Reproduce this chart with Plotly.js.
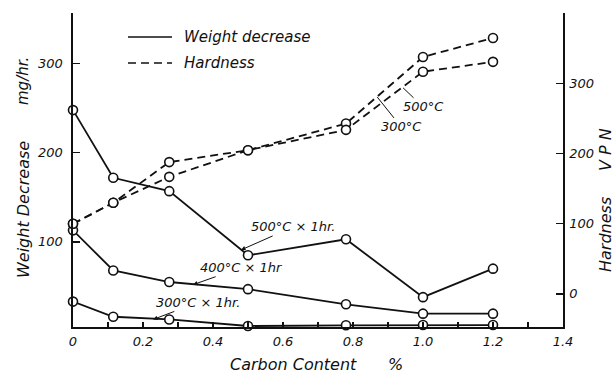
<!DOCTYPE html>
<html>
<head>
<meta charset="utf-8">
<script src="https://cdn.plot.ly/plotly-3.0.1.min.js"></script>
<style>
  html, body { margin: 0; padding: 0; background: #fff; }
  #chart { width: 614px; height: 376px; }
</style>
</head>
<body>
<div id="chart"></div>
<script>
// Carbon content (%) of the steels tested
const carbon = [0, 0.115, 0.275, 0.5, 0.78, 1.0, 1.2];

// Weight decrease (mg/hr.) after tempering for 1 hr. at each temperature
const wear500 = [248, 172, 157, 85, 103, 38, 70];
const wear400 = [113, 68, 55, 47, 30, 19.5, 19.5];
const wear300 = [33, 16, 13, 5.6, 6.4, 6.7, 6.7];

// Hardness (VPN) after tempering at 300 °C and 500 °C
const hard300 = [100, 130, 188, 205, 243, 338, 365];
const hard500 = [100, 130, 167, 205, 234, 317, 331];

// Axis ticks
const xTickVals = [0, 0.1, 0.2, 0.3, 0.4, 0.5, 0.6, 0.7, 0.8, 0.9, 1.0, 1.1, 1.2, 1.3, 1.4];
const xTickText = ['0', '', '0.2', '', '0.4', '', '0.6', '', '0.8', '', '1.0', '', '1.2', '', '1.4'];
const wearTicks = [100, 200, 300];
const hardTicks = [0, 100, 200, 300];

const INK = '#111';
const FONT = 'DejaVu Sans';
const W = 614, H = 376;
const M = { l: 73, r: 51, t: 13, b: 49 };

// pixel -> paper helpers for layout items
const px = x => (x - M.l) / (W - M.l - M.r);
const py = y => (H - M.b - y) / (H - M.t - M.b);

const markerStyle = { symbol: 'circle', size: 9, color: '#fff', line: { color: INK, width: 1.6 } };

function series(x, y, axis, dash) {
  return {
    type: 'scatter', mode: 'lines+markers', x: x, y: y, yaxis: axis,
    line: { color: INK, width: 1.8, dash: dash || 'solid' },
    marker: markerStyle, cliponaxis: false, hoverinfo: 'skip'
  };
}

const traces = [
  series(carbon, hard300, 'y2', '8px,5px'),
  series(carbon, hard500, 'y2', '8px,5px'),
  series(carbon, wear500, 'y'),
  series(carbon, wear400, 'y'),
  series(carbon, wear300, 'y')
];

const tickFont = { family: FONT, size: 13, color: INK, style: 'italic' };
const labelFont = { family: FONT, size: 13, color: INK, style: 'italic' };

function note(text, x, y, yref, ax, ay, head) {
  return {
    text: text, x: x, y: y, xref: 'x', yref: yref, ax: ax, ay: ay,
    showarrow: true, arrowhead: head, arrowsize: 0.9, arrowwidth: 1, arrowcolor: INK,
    font: labelFont, standoff: 0
  };
}

function label(text, x, y, opts) {
  return Object.assign({
    text: text, x: px(x), y: py(y), xref: 'paper', yref: 'paper',
    xanchor: 'center', yanchor: 'middle',
    showarrow: false, font: { family: FONT, size: 16, color: INK, style: 'italic' }
  }, opts || {});
}

const legendFont = { family: FONT, size: 15, color: INK, style: 'italic' };

const annotations = [
  note('500°C × 1hr.', 0.48, 91, 'y', 52, -23, 2),
  note('400°C × 1hr', 0.343, 52, 'y', 48, -17, 2),
  note('300°C × 1hr.', 0.229, 13, 'y', 45, -17, 2),
  note('500°C', 0.943, 294, 'y2', 20, 19, 0),
  note('300°C', 0.869, 281, 'y2', 24, 30, 0),
  // legend text
  label('Weight decrease', 182, 37, { xanchor: 'left', font: legendFont }),
  label('Hardness', 182, 63, { xanchor: 'left', font: legendFont }),
  // axis titles
  label('Weight Decrease', 23, 210, { textangle: -90 }),
  label('mg/hr.', 23, 81, { textangle: -90, font: legendFont }),
  label('Hardness', 605, 235, { textangle: -90 }),
  label('V P N', 605, 150, { textangle: -90 }),
  label('Carbon Content', 293, 364),
  label('%', 395, 364)
];

const shapes = [
  { type: 'line', xref: 'paper', yref: 'paper', x0: px(128), x1: px(172), y0: py(37), y1: py(37),
    line: { color: INK, width: 1.6 } },
  { type: 'line', xref: 'paper', yref: 'paper', x0: px(128), x1: px(172), y0: py(63), y1: py(63),
    line: { color: INK, width: 1.6, dash: '8px,5px' } }
];

const layout = {
  width: W, height: H, margin: M,
  paper_bgcolor: '#fff', plot_bgcolor: '#fff',
  showlegend: false,
  font: { family: FONT, color: INK },
  xaxis: {
    range: [0, 1.4], tickmode: 'array', tickvals: xTickVals, ticktext: xTickText,
    ticks: 'inside', ticklen: 5, tickwidth: 1.2, tickcolor: INK,
    showline: true, linecolor: INK, linewidth: 1.6, mirror: false,
    showgrid: false, zeroline: false, tickfont: tickFont, ticklabelstandoff: 2
  },
  yaxis: {
    range: [4.5, 357], tickmode: 'array', tickvals: wearTicks,
    ticks: 'inside', ticklen: 7, tickwidth: 1.2, tickcolor: INK,
    showline: true, linecolor: INK, linewidth: 1.6,
    showgrid: false, zeroline: false, tickfont: tickFont, ticklabelstandoff: 6
  },
  yaxis2: {
    range: [-47.2, 400.7], overlaying: 'y', side: 'right', tickmode: 'array', tickvals: hardTicks,
    ticks: 'inside', ticklen: 7, tickwidth: 1.2, tickcolor: INK,
    showline: true, linecolor: INK, linewidth: 1.6,
    showgrid: false, zeroline: false, tickfont: tickFont, ticklabelstandoff: 2
  },
  annotations: annotations,
  shapes: shapes
};

Plotly.newPlot('chart', traces, layout, { staticPlot: true, displayModeBar: false });
</script>
</body>
</html>
